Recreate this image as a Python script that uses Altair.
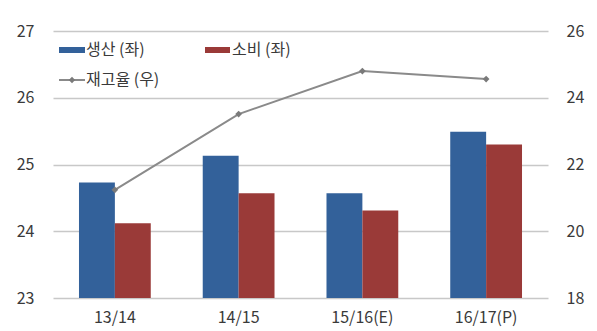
import altair as alt
import pandas as pd

# Crop years and balance figures
categories = ["13/14", "14/15", "15/16(E)", "16/17(P)"]
production = [24.73, 25.13, 24.57, 25.49]   # 생산 (좌)
consumption = [24.12, 24.57, 24.31, 25.30]  # 소비 (좌)
stock_ratio = [21.24, 23.51, 24.80, 24.56]  # 재고율 (우)

series_names = ["생산 (좌)", "소비 (좌)"]
line_name = "재고율 (우)"

BLUE = "#33619a"
RED = "#9a3a38"
GREY = "#8a8a8a"
FONT = "Noto Sans CJK KR"
TEXT = "#3a3a3a"

bars = pd.DataFrame({
    "cat": categories * 2,
    "series": [series_names[0]] * 4 + [series_names[1]] * 4,
    "value": production + consumption,
    "base": [23] * 8,
})
line = pd.DataFrame({"cat": categories, "ratio": stock_ratio})

x_enc = alt.X(
    "cat:N",
    sort=categories,
    scale=alt.Scale(paddingInner=0.42, paddingOuter=0.21),
    axis=alt.Axis(title=None, labelAngle=0, domain=False, ticks=False,
                  labelPadding=11, labelFontSize=16, labelColor=TEXT,
                  labelFont=FONT),
)

bar_layer = alt.Chart(bars).mark_bar().encode(
    x=x_enc,
    xOffset=alt.XOffset("series:N", sort=series_names),
    y=alt.Y("value:Q",
            scale=alt.Scale(domain=[23, 27], zero=False, nice=False),
            axis=alt.Axis(title=None, values=[23, 24, 25, 26, 27], format="d",
                          domain=False, ticks=False, grid=True,
                          gridColor="#c8c8c8", gridWidth=1.5,
                          labelPadding=19, labelFontSize=16,
                          labelColor=TEXT, labelFont=FONT)),
    y2="base:Q",
    color=alt.Color("series:N", sort=series_names,
                    scale=alt.Scale(domain=series_names, range=[BLUE, RED]),
                    legend=None),
)

ratio_y = alt.Y("ratio:Q",
                scale=alt.Scale(domain=[18, 26], zero=False, nice=False),
                axis=alt.Axis(title=None, orient="right", values=[18, 20, 22, 24, 26],
                              format="d", domain=False, ticks=False, grid=False,
                              labelPadding=18, labelFontSize=16,
                              labelColor=TEXT, labelFont=FONT))

line_layer = alt.Chart(line).mark_line(color=GREY, strokeWidth=2).encode(
    x=alt.X("cat:N", sort=categories), y=ratio_y
)
point_layer = alt.Chart(line).mark_point(
    shape="diamond", filled=True, color="#7a7a7a", size=45, opacity=1
).encode(x=alt.X("cat:N", sort=categories), y=alt.Y("ratio:Q"))

ratio_layers = alt.layer(line_layer, point_layer)

# Legend drawn inside the top-left corner of the plot
legend_rows = pd.DataFrame({"label": series_names + [line_name]})
leg_blue = alt.Chart(legend_rows).transform_filter(
    alt.datum.label == series_names[0]
).mark_rect(color=BLUE).encode(
    x=alt.value(6), x2=alt.value(32), y=alt.value(16), y2=alt.value(22))
leg_red = alt.Chart(legend_rows).transform_filter(
    alt.datum.label == series_names[1]
).mark_rect(color=RED).encode(
    x=alt.value(152), x2=alt.value(177), y=alt.value(16), y2=alt.value(22))
leg_line = alt.Chart(legend_rows).transform_filter(
    alt.datum.label == line_name
).mark_rule(color=GREY, strokeWidth=2).encode(
    x=alt.value(6), x2=alt.value(32), y=alt.value(49))
leg_diamond = alt.Chart(legend_rows).transform_filter(
    alt.datum.label == line_name
).mark_point(shape="diamond", filled=True, color="#7a7a7a", size=40, opacity=1).encode(
    x=alt.value(19), y=alt.value(49))

def leg_text(name, xpos, ypos):
    return alt.Chart(legend_rows).transform_filter(
        alt.datum.label == name
    ).mark_text(align="left", baseline="middle", font=FONT, fontSize=16,
                color=TEXT).encode(
        x=alt.value(xpos), y=alt.value(ypos), text="label:N")

legend = alt.layer(
    leg_blue, leg_red, leg_line, leg_diamond,
    leg_text(series_names[0], 33, 19),
    leg_text(series_names[1], 179, 19),
    leg_text(line_name, 33, 49),
)

chart = alt.layer(bar_layer, ratio_layers, legend).resolve_scale(
    y="independent"
).properties(
    width=495, height=267,
    autosize=alt.AutoSizeParams(type="none"),
    padding={"left": 53, "top": 31, "right": 49, "bottom": 33},
    background="white",
).configure_view(stroke=None)

chart.save("out.html", embed_options={"renderer": "svg", "actions": False})
